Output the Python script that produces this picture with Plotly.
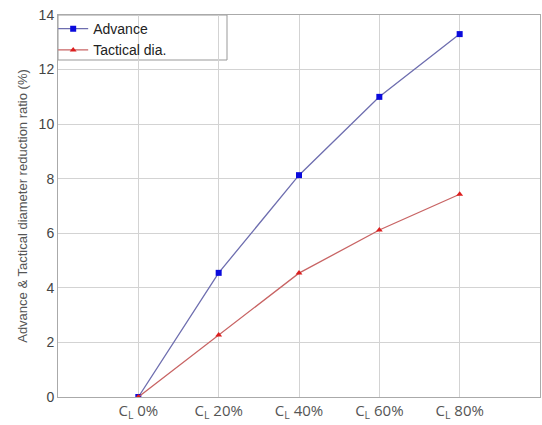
import plotly.graph_objects as go

categories = ["C<sub>L</sub> 0%", "C<sub>L</sub> 20%", "C<sub>L</sub> 40%", "C<sub>L</sub> 60%", "C<sub>L</sub> 80%"]
x_pos = [0, 1, 2, 3, 4]
advance = [0.0, 4.55, 8.13, 11.0, 13.3]
tactical = [0.0, 2.27, 4.54, 6.12, 7.43]
y_ticks = [0, 2, 4, 6, 8, 10, 12, 14]

fig = go.Figure()
fig.add_trace(go.Scatter(
    x=x_pos, y=advance, mode="lines+markers", name="Advance",
    line=dict(color="rgb(110,110,175)", width=1.3),
    marker=dict(symbol="square", size=6, color="rgb(10,10,220)")))
fig.add_trace(go.Scatter(
    x=x_pos, y=tactical, mode="lines+markers", name="Tactical dia.",
    line=dict(color="rgb(200,100,100)", width=1.3),
    marker=dict(symbol="triangle-up", size=6, color="rgb(220,30,30)")))

# legend frame (wider than plotly's auto-sized box, like the original)
fig.add_shape(type="rect", xref="paper", yref="paper",
              x0=0, x1=169 / 482, y0=1 - 45 / 382, y1=1,
              line=dict(color="#999999", width=1), fillcolor="white",
              layer="between")

fig.update_layout(
    width=542, height=425,
    margin=dict(l=58, r=2, t=15, b=28),
    paper_bgcolor="white", plot_bgcolor="white",
    font=dict(family="Liberation Sans, Arial", color="#333333", size=13),
    showlegend=True,
    legend=dict(x=-0.01, y=1.005, xanchor="left", yanchor="top",
                bgcolor="rgba(0,0,0,0)", borderwidth=0,
                font=dict(size=14, color="#222222"),
                tracegroupgap=0, itemwidth=30),
)
fig.update_xaxes(
    range=[-1, 5], tickmode="array", tickvals=x_pos, ticktext=categories,
    showgrid=True, gridcolor="#d3d3d3", gridwidth=1,
    showline=True, linecolor="#aaaaaa", linewidth=1, mirror=True,
    zeroline=False, ticks="",
    tickfont=dict(family="Open Sans, Liberation Sans", size=15, color="#555555"),
)
fig.update_yaxes(
    range=[0, 14], tickmode="array", tickvals=y_ticks,
    showgrid=True, gridcolor="#d3d3d3", gridwidth=1,
    showline=True, linecolor="#aaaaaa", linewidth=1, mirror=True,
    zeroline=False, ticks="",
    tickfont=dict(size=14, color="#444444"),
    title=dict(text="Advance & Tactical diameter reduction ratio (%)",
               font=dict(size=13, color="#555555"), standoff=8),
)

fig.write_html("out.html")
